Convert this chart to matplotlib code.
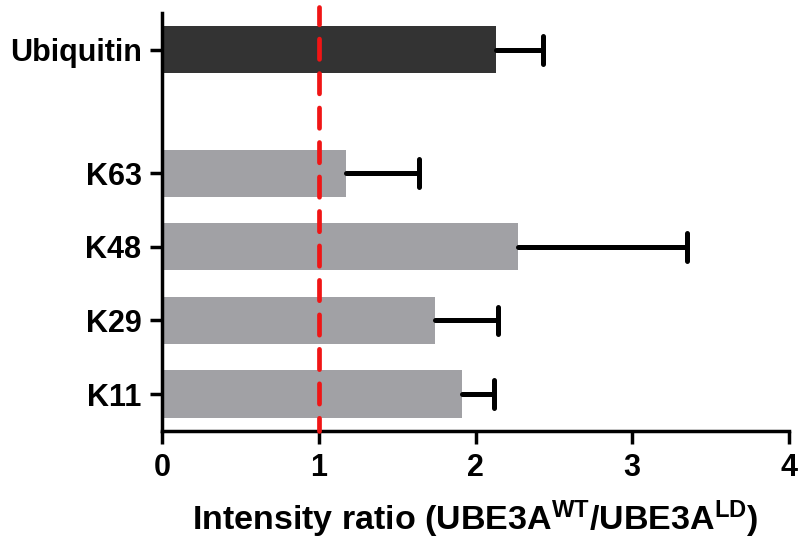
import numpy as np
import matplotlib
matplotlib.use('Agg')
import matplotlib.pyplot as plt

plt.rcParams['font.family'] = ['Liberation Sans', 'DejaVu Sans']
plt.rcParams['font.weight'] = 'bold'
plt.rcParams['mathtext.fontset'] = 'custom'
plt.rcParams['mathtext.rm'] = 'Liberation Sans:bold'
plt.rcParams['mathtext.bf'] = 'Liberation Sans:bold'
plt.rcParams['mathtext.default'] = 'bf'

# data (bottom to top)
labels = ['K11', 'K29', 'K48', 'K63', 'Ubiquitin']
ratios = [1.91, 1.74, 2.27, 1.17, 2.13]
errs = [0.21, 0.40, 1.08, 0.47, 0.30]
colors = ['#a1a1a5', '#a1a1a5', '#a1a1a5', '#a1a1a5', '#333333']

# Ubiquitin sits a bit further away from the lysine bars
ypos = np.array([0, 1, 2, 3, 4.68])
h = 0.64

fig = plt.figure(figsize=(8, 5.46), dpi=100)
ax = fig.add_axes([0.203, 0.2106, 0.783, 0.7654])

ax.barh(ypos, ratios, height=h, color=colors, edgecolor='none', zorder=2)

ends = np.array(ratios) + np.array(errs)
ax.hlines(ypos, ratios, ends, color='black', lw=3.6, capstyle='round', zorder=3)
ax.vlines(ends, ypos - 0.19, ypos + 0.19, color='black', lw=3.6, capstyle='round', zorder=3)

ax.axvline(1, ymin=0, ymax=1.015, color='#f01515', lw=3.4, ls=(1.5, (4.3, 3.0)),
           dash_capstyle='round', clip_on=False, zorder=4)

ax.set_xlim(0, 4)
ax.set_ylim(-0.503, 5.18)
ax.set_xticks([0, 1, 2, 3, 4])
ax.set_yticks(ypos)
ax.set_yticklabels(labels)

for s in ['top', 'right']:
    ax.spines[s].set_visible(False)
for s in ['left', 'bottom']:
    ax.spines[s].set_linewidth(2.5)

ax.tick_params(axis='both', width=2.5, length=9, labelsize=22)
ax.tick_params(axis='x', pad=7)
ax.tick_params(axis='y', pad=6)
for t in ax.get_xticklabels() + ax.get_yticklabels():
    t.set_fontweight('bold')

ax.set_xlabel(r'Intensity ratio (UBE3A$^{WT}$/UBE3A$^{LD}$)', fontsize=24.5,
              fontweight='bold', labelpad=11)

fig.savefig('out.png', dpi=100)
